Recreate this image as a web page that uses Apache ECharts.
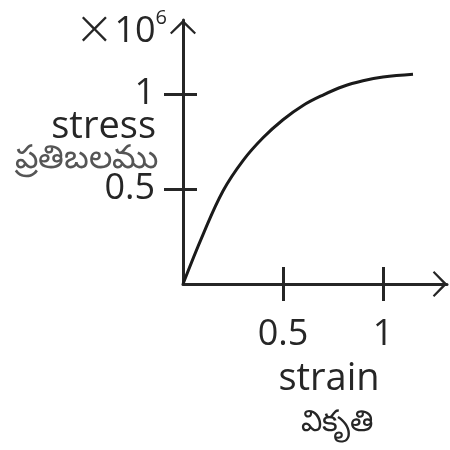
<!DOCTYPE html>
<html>
<head>
<meta charset="utf-8">
<script src="https://cdn.jsdelivr.net/npm/echarts@6/dist/echarts.min.js"></script>
<style>
  html, body { margin: 0; padding: 0; background: #fff; }
  #main { width: 450px; height: 450px; }
</style>
</head>
<body>
<div id="main"></div>
<script>
// strain (x) and stress (y, x10^6)
var strain = [0, 0.1, 0.2, 0.3, 0.4, 0.5, 0.6, 0.7, 0.8, 0.9, 1.0, 1.15];
var stress = [0, 0.26, 0.49, 0.65, 0.77, 0.865, 0.94, 0.995, 1.04, 1.07, 1.09, 1.105];
var xTicks = [0.5, 1];
var yTicks = [0.5, 1];

var ink = '#262626';
var font = 'Open Sans';
// open chevron arrow head
var chevron = 'path://M13,0 L26,13 L24.5,14.5 L13,3.5 L1.5,14.5 L0,13 Z';

var points = [];
for (var i = 0; i < strain.length; i++) {
    points.push([strain[i], stress[i]]);
}

var myChart = echarts.init(document.getElementById('main'));

var axisLine = {
    show: true,
    lineStyle: { color: ink, width: 3 },
    symbol: ['none', chevron],
    symbolSize: [26, 15],
    symbolOffset: [0, -7]
};

var option = {
    animation: false,
    backgroundColor: '#fff',
    grid: {
        left: 183,
        right: 3,
        top: 20,
        bottom: 166,
        containLabel: false,
        outerBoundsMode: 'none'
    },
    xAxis: [{
        type: 'value',
        min: 0,
        max: 1.32,
        axisLine: axisLine,
        axisTick: { show: true, customValues: xTicks, length: 17, lineStyle: { color: ink, width: 3 } },
        axisLabel: { customValues: xTicks, margin: 33, fontSize: 36, fontFamily: font, color: ink },
        splitLine: { show: false }
    }, {
        type: 'value',
        position: 'bottom',
        min: 0,
        max: 1.32,
        axisLine: { show: false },
        axisTick: { show: true, inside: true, customValues: xTicks, length: 17, lineStyle: { color: ink, width: 3 } },
        axisLabel: { show: false },
        splitLine: { show: false }
    }],
    yAxis: [{
        type: 'value',
        min: 0,
        max: 1.39,
        axisLine: axisLine,
        axisTick: { show: true, customValues: yTicks, length: 19, lineStyle: { color: ink, width: 3 } },
        axisLabel: { customValues: yTicks, margin: 28, fontSize: 36, fontFamily: font, color: ink },
        splitLine: { show: false }
    }, {
        type: 'value',
        position: 'left',
        offset: 0,
        min: 0,
        max: 1.39,
        axisLine: { show: false },
        axisTick: { show: true, inside: true, customValues: yTicks, length: 14, lineStyle: { color: ink, width: 3 } },
        axisLabel: { show: false },
        splitLine: { show: false }
    }],
    graphic: [
        {
            type: 'text',
            style: {
                text: '{x|×}10{sup|6}',
                x: 167, y: 32,
                align: 'right', textAlign: 'right',
                verticalAlign: 'middle', textVerticalAlign: 'middle',
                fontSize: 36, fontFamily: font, fill: ink,
                rich: {
                    x: { fontSize: 48, fontFamily: 'DejaVu Sans', fill: ink, fontWeight: 'lighter' },
                    sup: { fontSize: 20, fontFamily: font, fill: ink, verticalAlign: 'top', padding: [0, 0, 14, 0] }
                }
            }
        },
        {
            type: 'text',
            style: {
                text: 'stress', x: 156, y: 127,
                align: 'right', textAlign: 'right',
                verticalAlign: 'middle', textVerticalAlign: 'middle',
                fontSize: 38, fontFamily: font, fill: ink
            }
        },
        {
            type: 'text',
            style: {
                text: 'ప్రతిబలము', x: 158, y: 159,
                align: 'right', textAlign: 'right',
                verticalAlign: 'middle', textVerticalAlign: 'middle',
                fontSize: 33, fontFamily: font, fill: '#555'
            }
        },
        {
            type: 'text',
            style: {
                text: 'strain', x: 329, y: 379,
                align: 'center', textAlign: 'center',
                verticalAlign: 'middle', textVerticalAlign: 'middle',
                fontSize: 38, fontFamily: font, fill: ink
            }
        },
        {
            type: 'text',
            style: {
                text: 'వికృతి', x: 337, y: 422,
                align: 'center', textAlign: 'center',
                verticalAlign: 'middle', textVerticalAlign: 'middle',
                fontSize: 30, fontFamily: font, fill: ink
            }
        }
    ],
    series: [{
        name: 'stress',
        type: 'line',
        xAxisIndex: 0,
        yAxisIndex: 0,
        data: points,
        smooth: 0.4,
        showSymbol: false,
        lineStyle: { color: '#1a1a1a', width: 3 }
    }]
};

myChart.setOption(option);
</script>
</body>
</html>
